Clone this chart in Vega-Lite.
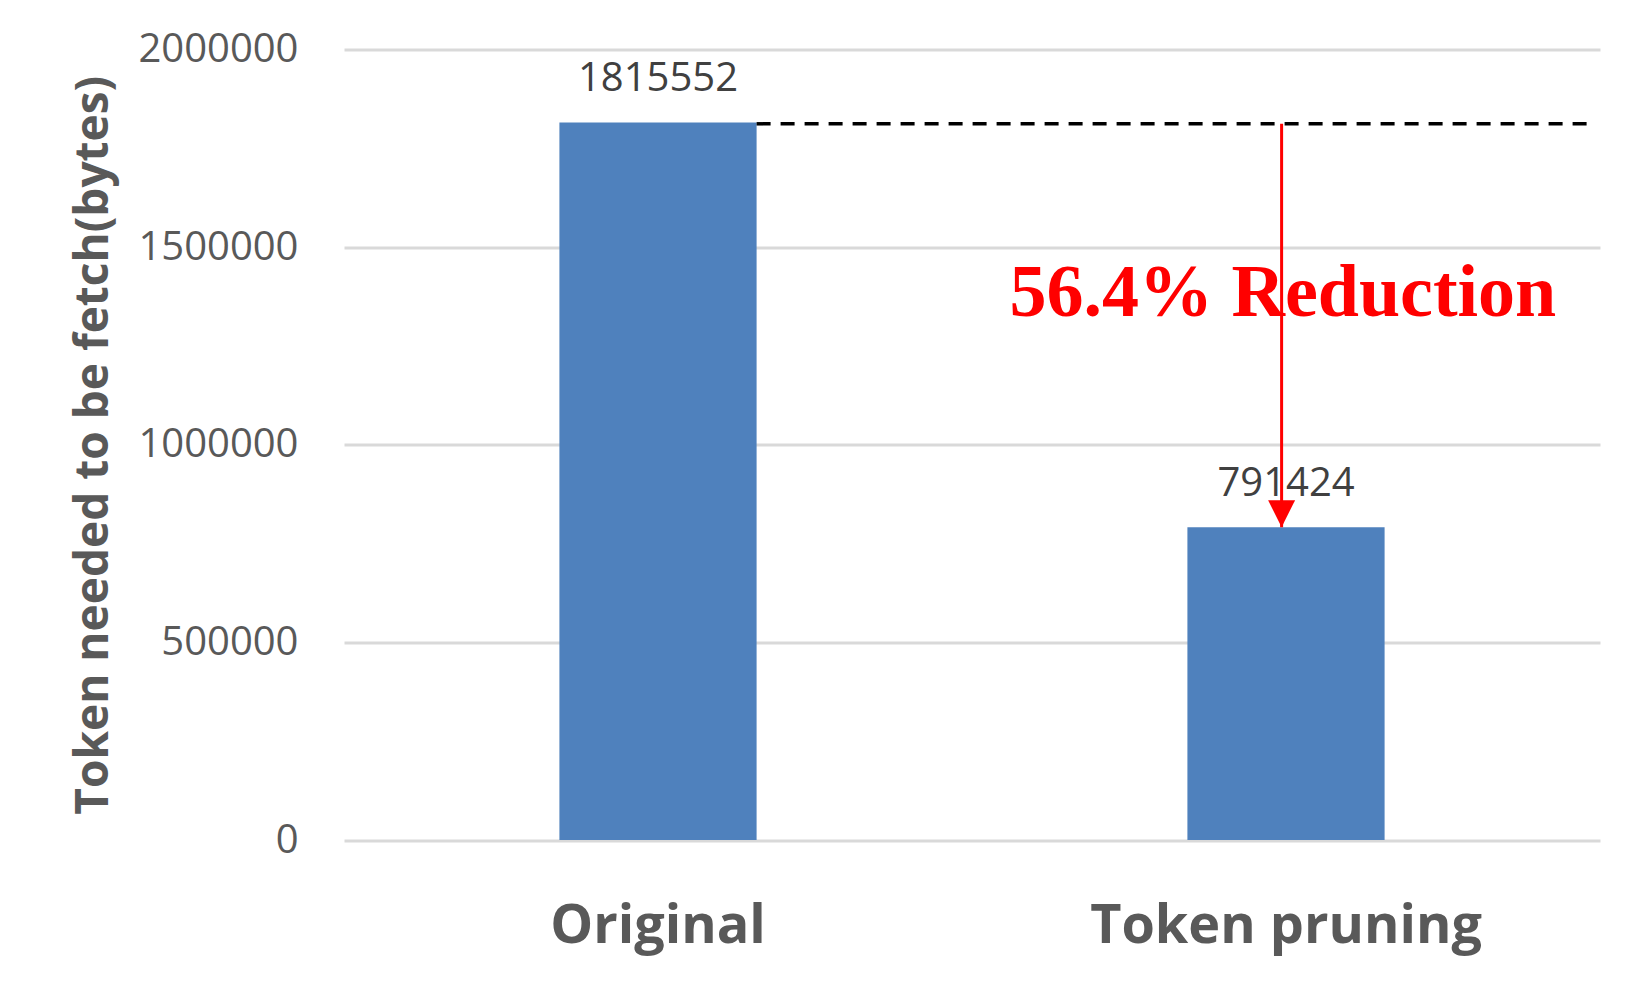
{
  "$schema": "https://vega.github.io/schema/vega-lite/v6.json",
  "width": 1256,
  "height": 790.5,
  "autosize": "none",
  "padding": {"left": 344, "top": 49.5, "right": 50, "bottom": 149},
  "background": "white",
  "config": {"view": {"stroke": null}},
  "datasets": {
    "bars": [
      {"category": "Original", "value": 1815552},
      {"category": "Token pruning", "value": 791424}
    ],
    "refline": [{"x0": 0.657, "x1": 1.982, "level": 1812000}],
    "arrow": [{"xpos": 1.493, "top": 1812000, "tip": 791424}],
    "note": [{"xpos": 1.495, "ypos": 1325000, "label": "56.4% Reduction"}]
  },
  "layer": [
    {
      "data": {"name": "bars"},
      "encoding": {
        "x": {
          "field": "category",
          "type": "nominal",
          "sort": null,
          "scale": {"paddingInner": 0.686, "paddingOuter": 0.343},
          "axis": {
            "title": null,
            "labelAngle": 0,
            "labelLimit": 0,
            "ticks": false,
            "tickSize": 0,
            "domain": false,
            "labelPadding": 102,
            "labelBaseline": "alphabetic",
            "labelFont": "Open Sans",
            "labelFontWeight": "bold",
            "labelFontSize": 54,
            "labelColor": "#595959"
          }
        },
        "y": {
          "field": "value",
          "type": "quantitative",
          "scale": {"domain": [0, 2000000], "nice": false},
          "axis": {
            "title": "Token needed to be fetch(bytes)",
            "titleFont": "Open Sans",
            "titleFontWeight": "bold",
            "titleFontSize": 46,
            "titleColor": "#595959",
            "titlePadding": 27,
            "values": [0, 500000, 1000000, 1500000, 2000000],
            "format": "d",
            "ticks": false,
            "tickSize": 0,
            "domain": false,
            "labelPadding": 46,
            "labelFont": "Open Sans",
            "labelFontSize": 40,
            "labelColor": "#595959",
            "grid": true,
            "gridColor": "#d9d9d9",
            "gridWidth": 3
          }
        }
      },
      "layer": [
        {"mark": {"type": "bar", "color": "#4F81BD"}},
        {
          "mark": {
            "type": "text",
            "baseline": "alphabetic",
            "align": "center",
            "dy": -31,
            "font": "Open Sans",
            "fontSize": 40,
            "color": "#404040"
          },
          "encoding": {"text": {"field": "value", "type": "quantitative", "format": "d"}}
        }
      ]
    },
    {
      "data": {"name": "refline"},
      "mark": {"type": "rule", "color": "black", "strokeWidth": 3.5, "strokeDash": [14, 10]},
      "encoding": {
        "x": {"field": "x0", "type": "quantitative", "scale": {"domain": [0, 2], "nice": false, "zero": false}, "axis": null},
        "x2": {"field": "x1"},
        "y": {"field": "level", "type": "quantitative", "scale": {"domain": [0, 2000000], "nice": false}, "axis": null}
      }
    },
    {
      "data": {"name": "arrow"},
      "layer": [
        {
          "mark": {"type": "rule", "color": "#FF0000", "strokeWidth": 3},
          "encoding": {
            "x": {"field": "xpos", "type": "quantitative", "scale": {"domain": [0, 2], "nice": false, "zero": false}, "axis": null},
            "y": {"field": "top", "type": "quantitative", "scale": {"domain": [0, 2000000], "nice": false}, "axis": null},
            "y2": {"field": "tip"}
          }
        },
        {
          "mark": {"type": "point", "shape": "M-1,-2L1,-2L0,0Z", "size": 729, "filled": true, "color": "#FF0000", "opacity": 1, "strokeWidth": 0},
          "encoding": {
            "x": {"field": "xpos", "type": "quantitative", "scale": {"domain": [0, 2], "nice": false, "zero": false}, "axis": null},
            "y": {"field": "tip", "type": "quantitative", "scale": {"domain": [0, 2000000], "nice": false}, "axis": null}
          }
        }
      ]
    },
    {
      "data": {"name": "note"},
      "mark": {
        "type": "text",
        "font": "Liberation Serif",
        "fontWeight": "bold",
        "fontSize": 74,
        "color": "#FF0000",
        "align": "center",
        "baseline": "alphabetic"
      },
      "encoding": {
        "x": {"field": "xpos", "type": "quantitative", "scale": {"domain": [0, 2], "nice": false, "zero": false}, "axis": null},
        "y": {"field": "ypos", "type": "quantitative", "scale": {"domain": [0, 2000000], "nice": false}, "axis": null},
        "text": {"field": "label"}
      }
    }
  ],
  "resolve": {"scale": {"x": "independent"}, "axis": {"y": "independent"}}
}
